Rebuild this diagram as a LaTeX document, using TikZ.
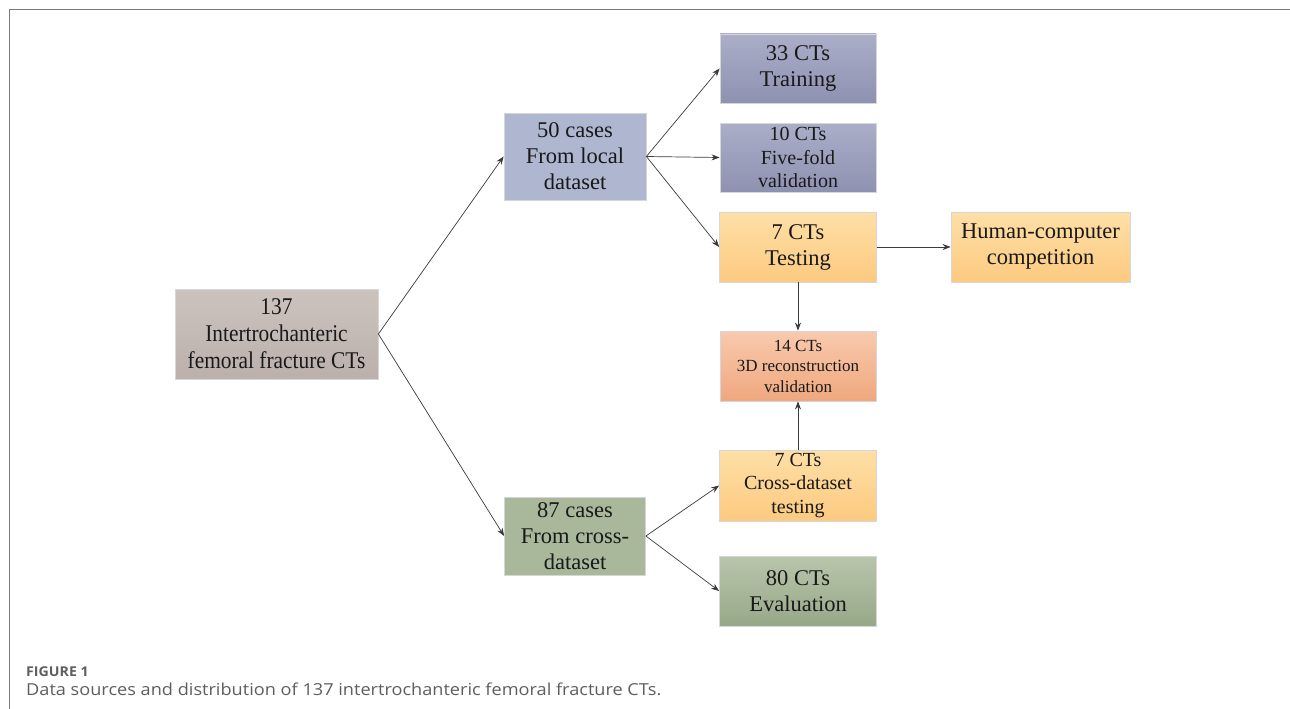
\documentclass[tikz,border=0pt]{standalone}
\usepackage{fontspec}
\setmainfont{Liberation Serif}
\newfontfamily\condfont[FakeStretch=0.89]{Liberation Serif}
\newfontfamily\capfont[FakeStretch=1.1]{Open Sans}
\newfontfamily\figfont[FakeStretch=1.05]{Open Sans}
\usetikzlibrary{arrows.meta}
\definecolor{rootT}{HTML}{CCC3BF}
\definecolor{rootB}{HTML}{BBB0AB}
\definecolor{localC}{HTML}{AEB7CF}
\definecolor{blueT}{HTML}{ABAEC8}
\definecolor{blueB}{HTML}{8E92B1}
\definecolor{orT}{HTML}{FEDFA6}
\definecolor{orB}{HTML}{FCCA80}
\definecolor{salT}{HTML}{F8CAAE}
\definecolor{salB}{HTML}{EFA77D}
\definecolor{greenC}{HTML}{A9B89B}
\definecolor{grT}{HTML}{B9C5AB}
\definecolor{grB}{HTML}{97A889}
\definecolor{edgeC}{HTML}{D6D6D6}
\definecolor{lineC}{HTML}{3A3A3A}
\definecolor{capC}{HTML}{5E5E5E}
\definecolor{frameC}{HTML}{7A7A7A}
\tikzset{
  box/.style={draw=edgeC, line width=0.8pt, align=center, text=black!90, inner sep=2pt},
  rootfnt/.style={font=\condfont\fontsize{24}{27}\selectfont},
  big/.style={font=\fontsize{22.5}{26}\selectfont},
  mid/.style={font=\fontsize{20}{23.5}\selectfont},
  small/.style={font=\fontsize{17}{20.5}\selectfont},
  conn/.style={draw=lineC, line width=0.7pt, -{Stealth[length=8pt,width=6pt]}},
}
\begin{document}
\begin{tikzpicture}[x=1pt,y=-1pt]
\useasboundingbox (0,0) rectangle (1290,709);
\draw[frameC, line width=1pt] (1290,9.5) -- (9.5,9.5) -- (9.5,709);
% nodes
\node[box,rootfnt,top color=rootT,bottom color=rootB,minimum width=203pt,minimum height=90pt] (root) at (276.5,334) {137\\Intertrochanteric\\femoral fracture CTs};
\node[box,big,fill=localC,minimum width=142pt,minimum height=87pt] (local) at (575,156.5) {50 cases\\From local\\dataset};
\node[box,big,fill=greenC,minimum width=141pt,minimum height=78pt] (cross) at (575,536) {87 cases\\From cross-\\dataset};
\node[box,big,top color=blueT,bottom color=blueB,minimum width=156pt,minimum height=69pt] (train) at (798,68.5) {33 CTs\\Training};
\node[box,mid,top color=blueT,bottom color=blueB,minimum width=156pt,minimum height=69pt] (five) at (798,157.5) {10 CTs\\Five-fold\\validation};
\node[box,big,top color=orT,bottom color=orB,minimum width=157pt,minimum height=70pt] (test) at (798,247) {7 CTs\\Testing};
\node[box,small,top color=salT,bottom color=salB,minimum width=156pt,minimum height=70pt] (recon) at (798,366) {14 CTs\\3D reconstruction\\validation};
\node[box,mid,top color=orT,bottom color=orB,minimum width=157pt,minimum height=71pt] (ctest) at (798,485.5) {7 CTs\\Cross-dataset\\testing};
\node[box,big,top color=grT,bottom color=grB,minimum width=157pt,minimum height=70pt] (eval) at (798,591) {80 CTs\\Evaluation};
\node[box,big,top color=orT,bottom color=orB,minimum width=179pt,minimum height=70pt] (human) at (1040.5,247) {Human-computer\\competition};
% connectors
\draw[conn] (root.east) -- (local.west);
\draw[conn] (root.east) -- (cross.west);
\draw[conn] (local.east) -- (train.west);
\draw[conn] (local.east) -- (five.west);
\draw[conn] (local.east) -- (test.west);
\draw[conn] (test.east) -- (human.west);
\draw[conn] (test.south) -- (recon.north);
\draw[conn] (ctest.north) -- (recon.south);
\draw[conn] (cross.east) -- (ctest.west);
\draw[conn] (cross.east) -- (eval.west);
% caption
\node[anchor=base west, inner sep=0pt, text=capC, font=\figfont\bfseries\fontsize{13.5}{15}\selectfont] (figlab) at (26,676) {FIGURE 1};
\node[anchor=base west, inner sep=0pt, text=capC, font=\capfont\fontsize{16.5}{18}\selectfont] (cap) at (26,695) {Data sources and distribution of 137 intertrochanteric femoral fracture CTs.};
\end{tikzpicture}
\end{document}
